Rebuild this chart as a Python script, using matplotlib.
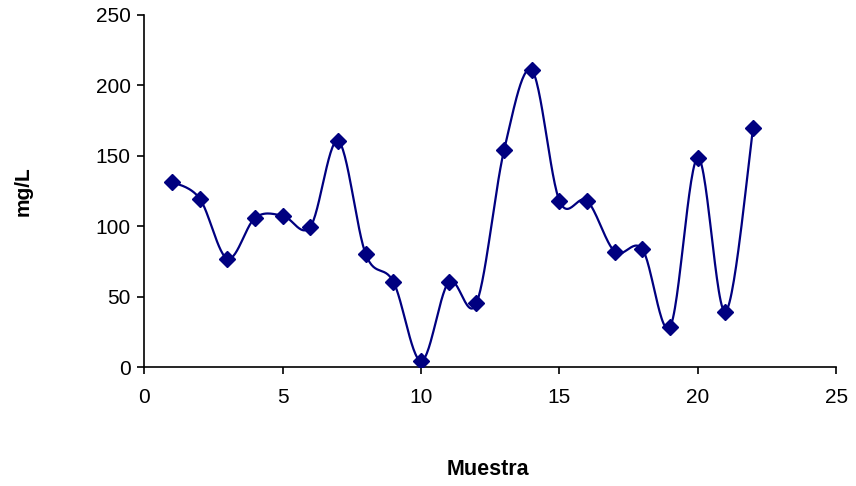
import numpy as np
import matplotlib
matplotlib.use("Agg")
import matplotlib.pyplot as plt

muestra = list(range(1, 23))
mg_l = [131.5, 119.5, 77, 106, 107.5, 99.8, 160.5, 80, 60.5, 4.5, 60.5, 45.5,
        154.2, 210.5, 118, 118, 82, 83.6, 28.8, 148.6, 39.4, 169.6]
x_ticks = [0, 5, 10, 15, 20, 25]
y_ticks = [0, 50, 100, 150, 200, 250]


def smooth(xs, ys, n=30):
    # Excel-like smoothed line: cubic Bezier with Catmull-Rom control points
    px = np.asarray(xs, float)
    py = np.asarray(ys, float)
    P = np.column_stack([px, py])
    out = []
    for i in range(len(P) - 1):
        p0 = P[i - 1] if i > 0 else P[i]
        p1 = P[i]
        p2 = P[i + 1]
        p3 = P[i + 2] if i + 2 < len(P) else P[i + 1]
        c1 = p1 + (p2 - p0) / 6.0
        c2 = p2 - (p3 - p1) / 6.0
        t = np.linspace(0, 1, n)[:, None]
        seg = ((1 - t) ** 3) * p1 + 3 * ((1 - t) ** 2) * t * c1 + 3 * (1 - t) * t ** 2 * c2 + t ** 3 * p2
        out.append(seg if i == 0 else seg[1:])
    S = np.vstack(out)
    return S[:, 0], S[:, 1]


plt.rcParams['font.family'] = ['Liberation Sans', 'DejaVu Sans']

fig = plt.figure(figsize=(8.56, 4.86), dpi=100)
ax = fig.add_axes([0.1688, 0.2442, 0.808, 0.7256])

navy = '#000080'
sx, sy = smooth(muestra, mg_l)
ax.plot(sx, sy, color=navy, lw=1.6, zorder=2)
ax.plot(muestra, mg_l, linestyle='none', marker='D', markersize=8,
        color=navy, zorder=3)

ax.set_xlim(0, 25)
ax.set_ylim(0, 250)
ax.set_xticks(x_ticks)
ax.set_yticks(y_ticks)
ax.tick_params(axis='both', direction='out', length=5, width=1.2,
               labelsize=15, colors='black')
ax.tick_params(axis='y', pad=5)
ax.tick_params(axis='x', pad=10)
for s in ['top', 'right']:
    ax.spines[s].set_visible(False)
for s in ['left', 'bottom']:
    ax.spines[s].set_linewidth(1.2)
    ax.spines[s].set_color('black')

ax.set_xlabel('Muestra', fontsize=15.5, fontweight='bold', va='center', ha='center')
ax.xaxis.set_label_coords(0.496, -0.291)
ax.set_ylabel('mg/L', fontsize=15, fontweight='bold', va='center', ha='center')
ax.yaxis.set_label_coords(-0.176, 0.5)

fig.savefig('out.png', dpi=100)
